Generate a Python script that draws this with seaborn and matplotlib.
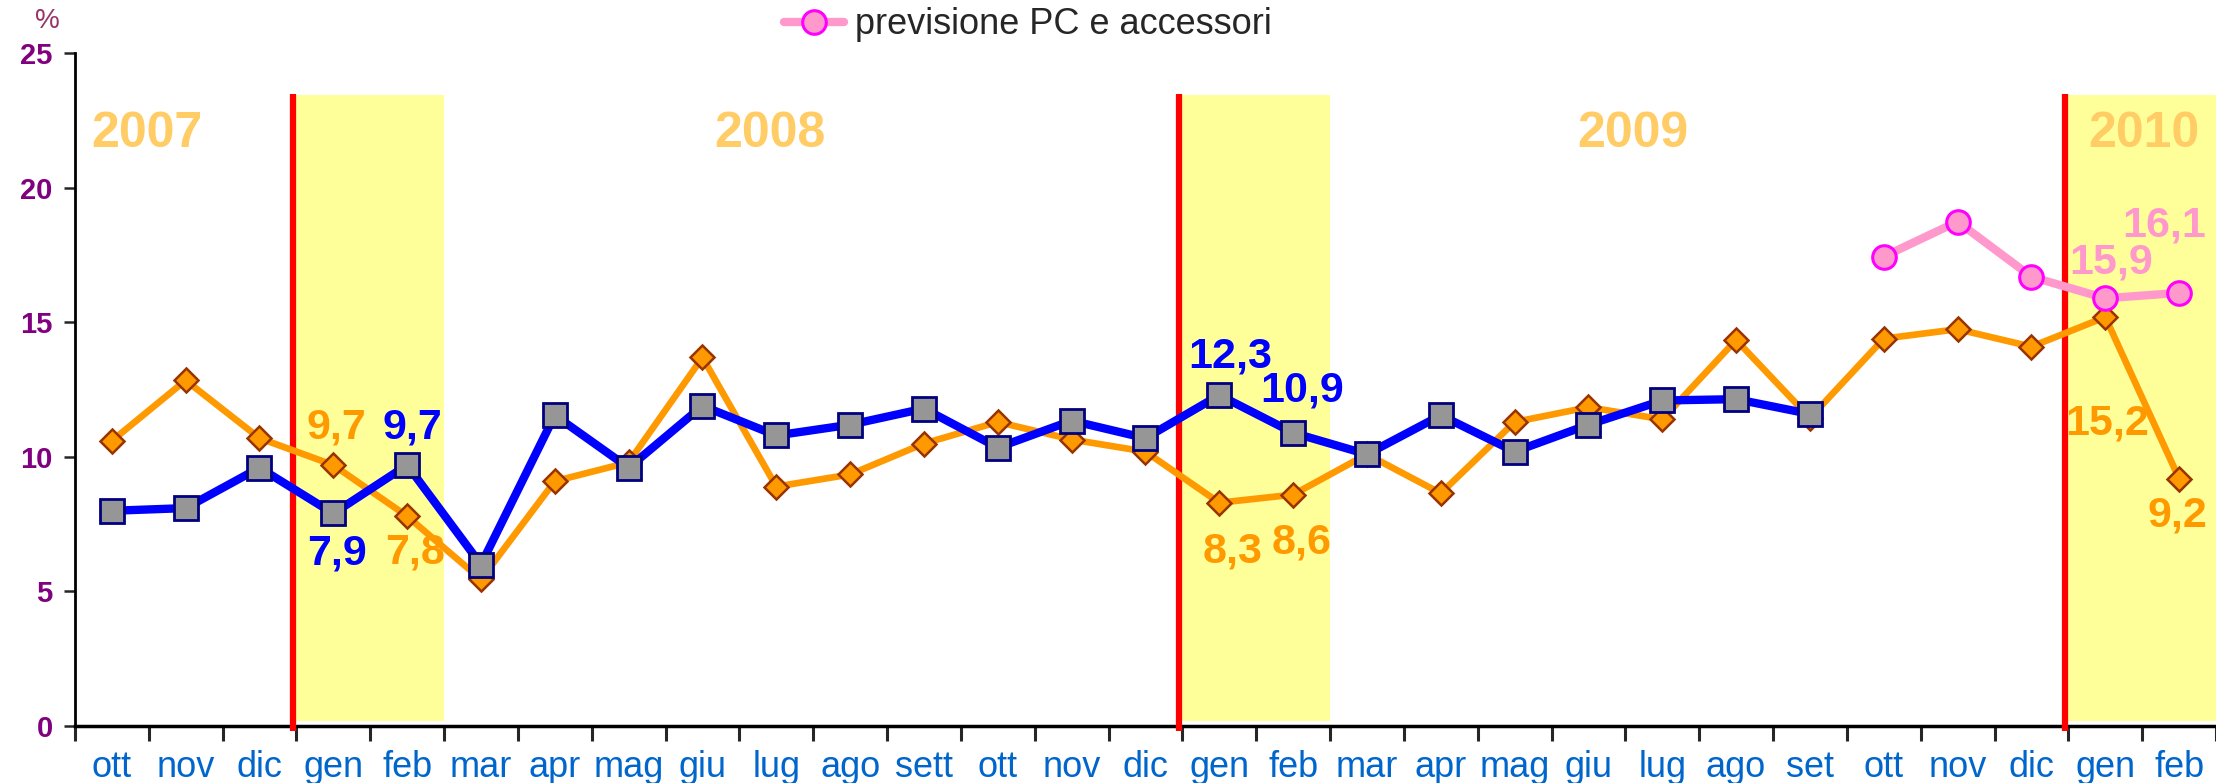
import matplotlib
matplotlib.use("Agg")
import matplotlib.pyplot as plt
import seaborn as sns

# month labels, ott 2007 -> feb 2010
months = ["ott", "nov", "dic",
          "gen", "feb", "mar", "apr", "mag", "giu", "lug", "ago", "sett", "ott", "nov", "dic",
          "gen", "feb", "mar", "apr", "mag", "giu", "lug", "ago", "set", "ott", "nov", "dic",
          "gen", "feb"]

# blue series (squares), ott 2007 -> set 2009
blue_vals = [8.0, 8.1, 9.6, 7.9, 9.7, 6.0, 11.55, 9.6, 11.9, 10.8, 11.2, 11.8,
             10.35, 11.35, 10.7, 12.3, 10.9, 10.1, 11.55, 10.2, 11.2, 12.1, 12.15, 11.6]

# orange series (diamonds), ott 2007 -> feb 2010
orange_vals = [10.6, 12.85, 10.7, 9.7, 7.8, 5.45, 9.1, 9.8, 13.7, 8.9, 9.35, 10.5,
               11.3, 10.65, 10.2, 8.3, 8.6, 10.1, 8.65, 11.3, 11.85, 11.4, 14.35, 11.45,
               14.4, 14.75, 14.1, 15.2, 9.2]

# pink forecast, ott 2009 -> feb 2010
pink_vals = [17.45, 18.75, 16.7, 15.9, 16.1]
pink_start = 24
pink_name = "previsione PC e accessori"

years = ["2007", "2008", "2009", "2010"]
year_x = [0.48, 8.92, 20.6, 27.52]
year_y = 22.0
year_starts = [3, 15, 27]   # index of "gen" for each new year

# which points get value labels, with pixel offsets
orange_labels = {3: (3, 38), 4: (8, -36), 15: (13, -49), 16: (8, -48), 27: (2, -106), 28: (-2, -37)}
blue_labels = {3: (4, -40), 4: (5, 38), 15: (11, 39), 16: (9, 42)}
pink_labels = {27: (6, 36), 28: (-15, 67)}

ORANGE = "#FF9900"
BLUE = "#0000FF"
PINK = "#FF99CC"

sns.set_style("white")
plt.rcParams["font.family"] = ["Liberation Sans", "DejaVu Sans"]

fig = plt.figure(figsize=(22.16, 7.83), dpi=100)
ax = fig.add_axes([0.0338, 0.0728, 0.9662, 0.8589])

# yellow bands and red year separators
for s in year_starts:
    ax.fill_between([s - 0.5, s + 1.5], 0.19, 23.45, color="#FFFF99", lw=0, zorder=0)
    ax.plot([s - 0.55, s - 0.55], [-0.2, 23.5], color="#FF0000", linewidth=4.5, zorder=3,
            clip_on=False, solid_capstyle="butt")

for name, xx in zip(years, year_x):
    ax.text(xx, year_y, name, color="#FFCC66", fontsize=36, fontweight="bold",
            ha="center", va="center", zorder=1)

x_orange = list(range(len(orange_vals)))
x_blue = list(range(len(blue_vals)))
x_pink = list(range(pink_start, pink_start + len(pink_vals)))

sns.lineplot(x=x_orange, y=orange_vals, ax=ax, color=ORANGE, linewidth=4.8, marker="D",
             markersize=12.5, markerfacecolor=ORANGE, markeredgecolor="#993300",
             markeredgewidth=1.8, zorder=4, legend=False)
sns.lineplot(x=x_blue, y=blue_vals, ax=ax, color=BLUE, linewidth=6, marker="s",
             markersize=17, markerfacecolor="#969696", markeredgecolor="#000080",
             markeredgewidth=2, zorder=5, legend=False)
sns.lineplot(x=x_pink, y=pink_vals, ax=ax, color=PINK, linewidth=6, marker="o",
             markersize=17, markerfacecolor=PINK, markeredgecolor="#FF00FF",
             markeredgewidth=2.2, zorder=6, legend=False)
pink_line = ax.get_lines()[-1]


def fmt(v):
    return f"{v:.1f}".replace(".", ",")


for vals, offs, col, start in [(orange_vals, orange_labels, ORANGE, 0),
                               (blue_vals, blue_labels, BLUE, 0),
                               (pink_vals, pink_labels, PINK, pink_start)]:
    for i, (dx, dy) in offs.items():
        v = vals[i - start]
        ax.annotate(fmt(v), xy=(i, v), xytext=(dx, dy), textcoords="offset pixels",
                    ha="center", va="center", color=col, fontsize=31,
                    fontweight="bold", zorder=7, annotation_clip=False)

ax.set_xlim(-0.5, len(months) - 0.5)
ax.set_ylim(0, 25)
ax.set_yticks([0, 5, 10, 15, 20, 25])
ax.tick_params(axis="y", direction="out", length=8, width=1.8, pad=8,
               labelsize=21, labelcolor="#800080", left=True)
for t in ax.get_yticklabels():
    t.set_fontweight("bold")

# ticks between categories, labels under categories
ax.set_xticks([i - 0.5 for i in range(len(months) + 1)])
ax.set_xticklabels([])
ax.set_xticks(range(len(months)), minor=True)
ax.set_xticklabels(months, minor=True)
ax.tick_params(axis="x", which="major", direction="out", length=11, width=2.2, bottom=True)
ax.tick_params(axis="x", which="minor", length=0, pad=17, labelcolor="#0066CC")
for t in ax.get_xticklabels(minor=True):
    t.set_family(["Liberation Sans Narrow", "Liberation Sans"])
    t.set_fontsize(26)

for side in ["top", "right"]:
    ax.spines[side].set_visible(False)
ax.spines["left"].set_color("black")
ax.spines["left"].set_linewidth(2)
ax.spines["bottom"].set_color("black")
ax.spines["bottom"].set_linewidth(2.5)
ax.grid(False)

# unit label above the y axis
ax.annotate("%", xy=(0, 1), xycoords="axes fraction", xytext=(-28, 32),
            textcoords="offset pixels", color="#993366", fontsize=20,
            ha="center", va="center", annotation_clip=False)

fig.legend(handles=[pink_line], labels=[pink_name], loc="center",
           bbox_to_anchor=(1028 / 2216, 1 - 25 / 783), frameon=False, fontsize=26,
           handlelength=1.65, handletextpad=0.3, borderpad=0)

fig.savefig("out.png", dpi=100)
